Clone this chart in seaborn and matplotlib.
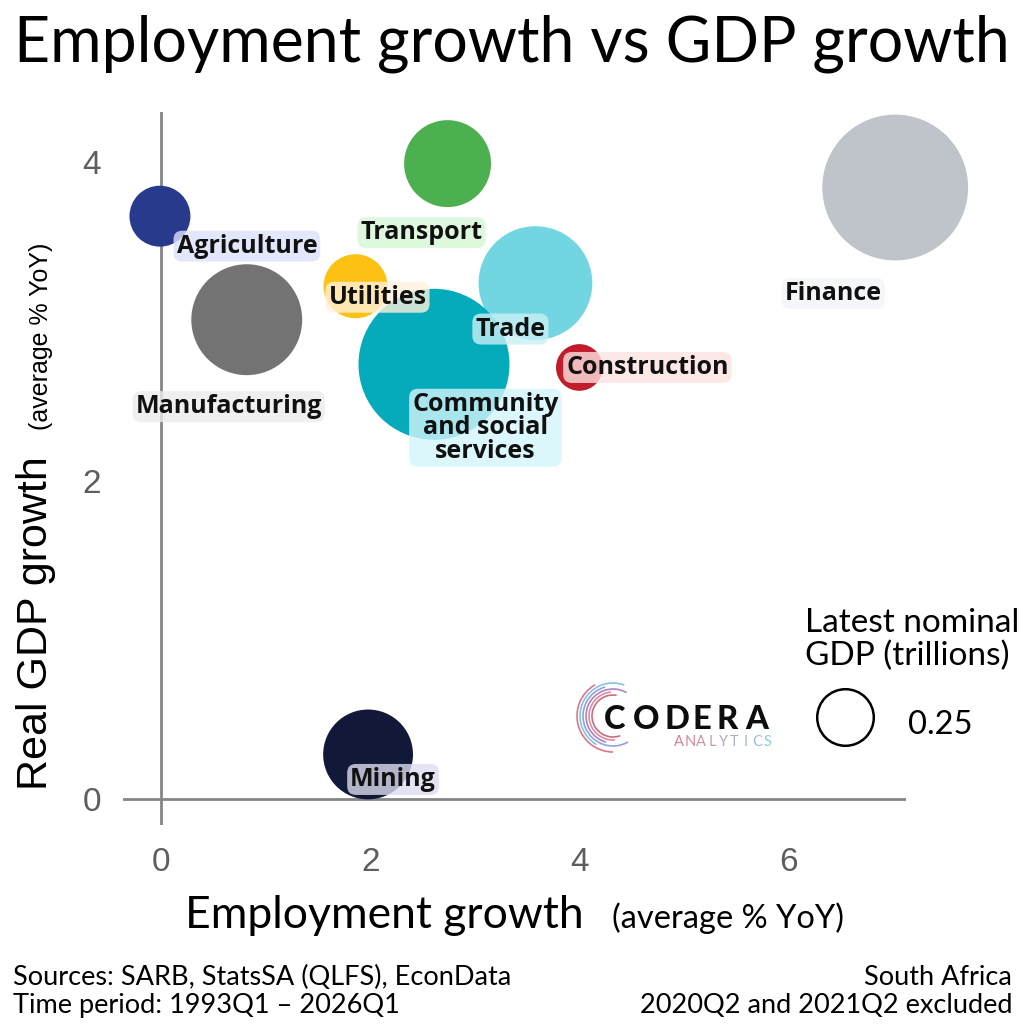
import numpy as np
import pandas as pd
import seaborn as sns
import matplotlib.pyplot as plt
from matplotlib import font_manager as fm
from matplotlib.lines import Line2D
from matplotlib.patches import Arc

# values
sectors = ["Finance", "Agriculture", "Transport", "Trade", "Community and social services",
           "Utilities", "Manufacturing", "Construction", "Mining"]
emp_growth = [7.02, -0.01, 2.74, 3.58, 2.61, 1.86, 0.82, 4.00, 1.98]
gdp_growth = [3.84, 3.66, 3.99, 3.24, 2.73, 3.22, 3.01, 2.71, 0.28]
nominal_gdp = [1.66, 0.29, 0.59, 1.01, 1.78, 0.32, 0.96, 0.17, 0.63]

labels = ["Finance", "Agriculture", "Transport", "Trade", "Community\nand social\nservices",
          "Utilities", "Manufacturing", "Construction", "Mining"]
colours = ["#bfc3ca", "#283a8c", "#4caf50", "#72d6e2", "#05aabb",
           "#fdc113", "#737373", "#c01c2c", "#111838"]
tints = ["#f2f4f9", "#dde2fb", "#d6f7d6", "#c9f1f6", "#d2f5fa",
         "#fff1dc", "#ececec", "#fde3e3", "#dcdcf0"]
# label offsets from bubble centre, in points
offsets = [(-44.6, -76.3), (62.6, -21.6), (-18.7, -49.7), (-18, -33.1), (37, -45.7),
           (15.8, -7.9), (-13, -62.6), (49, 0), (18, -18)]

x_ticks = [0, 2, 4, 6]
y_ticks = [0, 2, 4]
legend_value = 0.25
area_per_unit = 6640  # marker area (pt^2) per trillion


def bold_family(cands):
    # pick a family that really has a static bold face
    for fam in cands:
        try:
            path = fm.findfont(fm.FontProperties(family=fam, weight="bold"), fallback_to_default=False)
        except Exception:
            continue
        if "bold" in path.lower():
            return fam
    return "DejaVu Sans"


label_font = bold_family(["Noto Sans", "Open Sans", "Roboto", "Lato"])

df = pd.DataFrame({"sector": sectors, "emp": emp_growth, "gdp": gdp_growth, "nominal": nominal_gdp})

sns.set_style("white")
plt.rcParams["font.family"] = ["Lato", "DejaVu Sans"]
plt.rcParams["text.color"] = "black"

fig = plt.figure(figsize=(10.24, 10.24), dpi=100)
ax = fig.add_axes([0.1201, 0.1943, 0.7646, 0.6963])

ax.axhline(0, color="#858585", lw=2.0, zorder=0)
ax.axvline(0, color="#858585", lw=2.0, zorder=0)

sns.scatterplot(data=df, x="emp", y="gdp", hue="sector", palette=dict(zip(sectors, colours)),
                size="nominal", sizes=(0, 2 * area_per_unit), size_norm=(0, 2),
                legend=False, linewidth=0, alpha=1, clip_on=False, ax=ax, zorder=2)

for i, row in df.iterrows():
    ax.annotate(labels[i], (row["emp"], row["gdp"]), xytext=offsets[i], textcoords="offset points",
                ha="center", va="center", fontsize=18, fontweight="bold", family=label_font,
                color="#111111", linespacing=0.92, zorder=3,
                bbox=dict(boxstyle="round,pad=0.12,rounding_size=0.35", fc=tints[i], ec="none", alpha=0.8))

ax.set_xlim(-0.3633, 7.1224)
ax.set_ylim(-0.1633, 4.3140)
ax.set_xticks(x_ticks)
ax.set_yticks(y_ticks)
ax.set_xticklabels([str(t) for t in x_ticks])
ax.set_yticklabels([str(t) for t in y_ticks])
ax.tick_params(length=0, pad=16, labelsize=24, labelcolor="#5e5e5e")
for lab in ax.get_xticklabels() + ax.get_yticklabels():
    lab.set_family("Liberation Sans")
ax.set_xlabel("")
ax.set_ylabel("")
sns.despine(ax=ax, left=True, bottom=True)

# title and axis titles
fig.text(0.5, 0.9395, "Employment growth vs GDP growth", ha="center", va="baseline", fontsize=45)
fig.text(185 / 1024, 0.0938, "Employment growth", ha="left", va="baseline", fontsize=32)
fig.text(612 / 1024, 0.0938, "(average % YoY)", ha="left", va="baseline", fontsize=23.5)
fig.text(56 / 1024, 0.2285, "Real GDP growth", rotation=90, ha="right", va="bottom",
         fontsize=31, family="Liberation Sans")
fig.text(53 / 1024, 0.580, "(average % YoY)", rotation=90, ha="right", va="bottom",
         fontsize=18, family="Liberation Sans")

# footer
fig.text(13 / 1024, 0.0381, "Sources: SARB, StatsSA (QLFS), EconData", fontsize=19.5, va="baseline")
fig.text(13 / 1024, 0.0107, "Time period: 1993Q1 \u2013 2026Q1", fontsize=19.5, va="baseline")
fig.text(1012 / 1024, 0.0381, "South Africa", fontsize=19.5, va="baseline", ha="right")
fig.text(1012 / 1024, 0.0107, "2020Q2 and 2021Q2 excluded", fontsize=19.5, va="baseline", ha="right")

# size legend
fig.text(805 / 1024, 1 - 632 / 1024, "Latest nominal", fontsize=24, va="baseline")
fig.text(805 / 1024, 1 - 665 / 1024, "GDP (trillions)", fontsize=24, va="baseline")
handle = Line2D([], [], marker="o", ls="", markersize=np.sqrt(area_per_unit * legend_value),
                mfc="white", mec="black", mew=1.8)
fig.legend(handles=[handle], labels=[f"{legend_value:g}"], loc="center left",
           bbox_to_anchor=(815 / 1024, 1 - 723 / 1024), frameon=False,
           fontsize=23.5, handlelength=1.84, handleheight=1.8,
           handletextpad=1.0, borderpad=0, borderaxespad=0)

# Codera logo
for ch, cx in zip("CODERA", [615, 646, 677, 702, 727, 757]):
    fig.text(cx / 1024, 1 - 729 / 1024, ch, ha="center", va="baseline", fontsize=23.5,
             fontweight="black", color="#0d0d0d")
pink = np.array([0.88, 0.50, 0.58])
blue = np.array([0.55, 0.80, 0.90])
for k, (ch, cx) in enumerate(zip("ANALYTICS", np.linspace(679, 768, 9))):
    t = k / 8
    fig.text(cx / 1024, 1 - 746 / 1024, ch, ha="center", va="baseline", fontsize=10.5,
             color=tuple(pink * (1 - t) + blue * t))
ring_cols = ["#c8506a", "#d87890", "#a070b0", "#7f90d8", "#70b8e0", "#d06070"]
ring_r = [21, 24, 27, 30, 33, 36]
ring_ang = [(80, 290), (95, 275), (60, 255), (105, 300), (70, 240), (120, 270)]
for r, (a1, a2), c in zip(ring_r, ring_ang, ring_cols):
    fig.add_artist(Arc((613 / 1024, 1 - 716 / 1024), 2 * r / 1024, 2 * r / 1024, theta1=a1, theta2=a2,
                       transform=fig.transFigure, color=c, lw=1.2, alpha=0.85))

fig.savefig("out.png", dpi=100)
